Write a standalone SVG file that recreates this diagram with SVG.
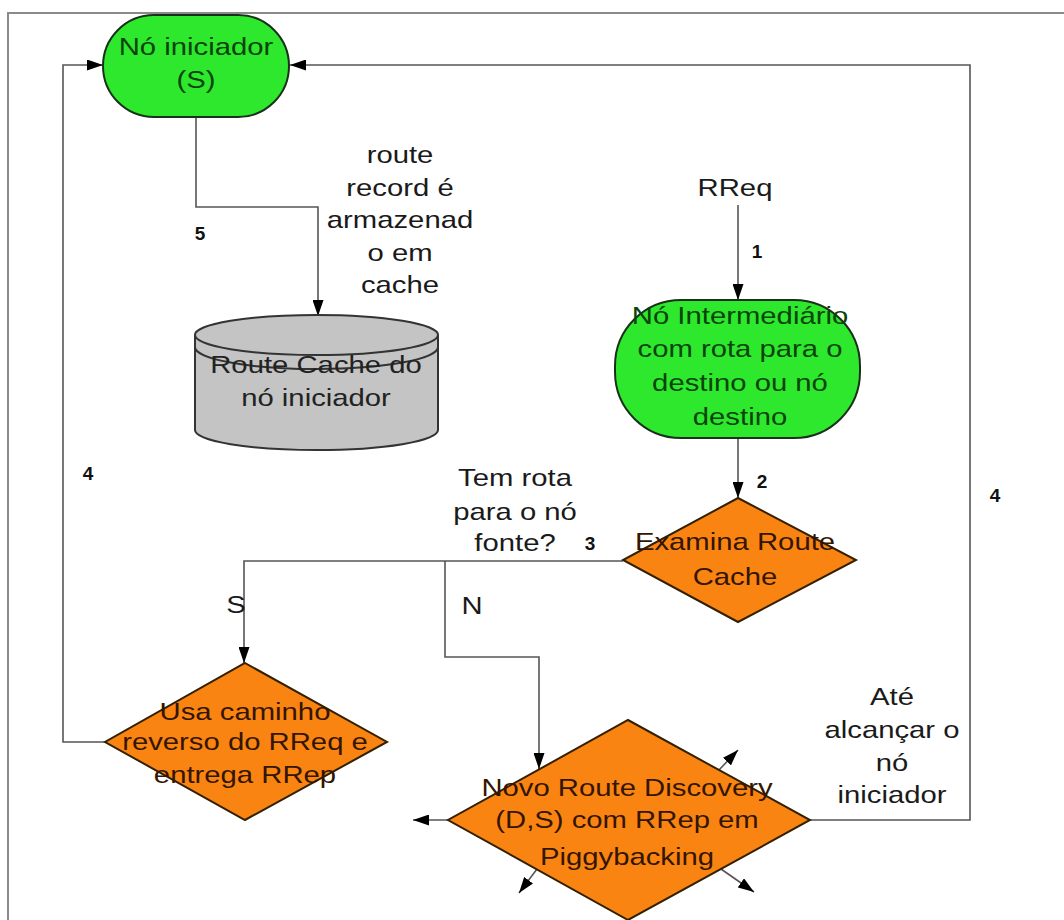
<svg xmlns="http://www.w3.org/2000/svg" width="1064" height="920" viewBox="0 0 1064 920">
<defs>
<marker id="ah" viewBox="0 0 16 11" refX="16" refY="5.5" markerWidth="16" markerHeight="11" markerUnits="userSpaceOnUse" orient="auto">
<path d="M0,0 L16,5.5 L0,11 z" fill="#000"/>
</marker>
<style>
.t{font-family:"Liberation Sans",Arial,sans-serif;font-size:24px;text-anchor:middle}
.b{font-family:"Liberation Sans",Arial,sans-serif;font-size:19px;font-weight:bold;text-anchor:middle;fill:#111}
.lbl{fill:#1a1a1a}
.gt{fill:#0b440b}
.ot{fill:#331500}
.ct{fill:#222}
.green{fill:#2ee82e;stroke:#1a301a;stroke-width:2}
.orange{fill:#fa8412;stroke:#332000;stroke-width:2}
.cyl{fill:#c4c4c4;stroke:#333;stroke-width:2}
.c{fill:none;stroke:#555;stroke-width:1.6}
.frame{fill:none;stroke:#8a8a8a;stroke-width:2}
</style>
</defs>
<rect width="1064" height="920" fill="#fff"/>
<path class="frame" d="M8,930 L8,13 L1070,13"/>

<g id="connectors">
<path class="c" d="M196,117 L196,207 L318,207 L318,316" marker-end="url(#ah)"/>
<path class="c" d="M738,205 L738,300" marker-end="url(#ah)"/>
<path class="c" d="M738,438 L738,498" marker-end="url(#ah)"/>
<path class="c" d="M623,561 L244,561 L244,663" marker-end="url(#ah)"/>
<path class="c" d="M445,561 L445,657 L539,657 L539,769" marker-end="url(#ah)"/>
<path class="c" d="M105,742 L63,742 L63,65 L103,65" marker-end="url(#ah)"/>
<path class="c" d="M810,820 L970,820 L970,65 L290,65" marker-end="url(#ah)"/>
<path class="c" d="M448,820 L413,820" marker-end="url(#ah)"/>
<path class="c" d="M719,770 L738,750" marker-end="url(#ah)"/>
<path class="c" d="M537,869 L519,893" marker-end="url(#ah)"/>
<path class="c" d="M721,869 L754,892" marker-end="url(#ah)"/>
</g>

<g id="node-iniciador">
<rect class="green" x="103" y="15" width="186" height="102" rx="51" ry="51"/>
<g transform="translate(196,0) scale(1.22,1)"><text class="t gt"><tspan x="0" y="55">Nó iniciador</tspan><tspan x="0" y="88">(S)</tspan></text></g>
</g>

<g id="node-cache">
<path class="cyl" d="M195,335 L195,430 A121.5,20 0 0 0 438,430 L438,335"/>
<ellipse class="cyl" cx="316.5" cy="335" rx="121.5" ry="20"/>
<path d="M195,347 A121.5,22 0 0 0 438,347" fill="none" stroke="#333" stroke-width="2"/>
<g transform="translate(316,0) scale(1.22,1)"><text class="t ct"><tspan x="0" y="373">Route Cache do</tspan><tspan x="0" y="406">nó iniciador</tspan></text></g>
</g>

<g id="node-intermediario">
<rect class="green" x="615" y="300" width="245" height="138" rx="66" ry="66"/>
<g transform="translate(740,0) scale(1.22,1)"><text class="t gt"><tspan x="0" y="324">Nó Intermediário</tspan><tspan x="0" y="357">com rota para o</tspan><tspan x="0" y="391">destino ou nó</tspan><tspan x="0" y="425">destino</tspan></text></g>
</g>

<g id="node-examina">
<polygon class="orange" points="738,498 856,560 738,622 623,560"/>
<g transform="translate(735,0) scale(1.22,1)"><text class="t ot"><tspan x="0" y="550">Examina Route</tspan><tspan x="0" y="585">Cache</tspan></text></g>
</g>

<g id="node-usa">
<polygon class="orange" points="245,663 387,742 245,820 105,742"/>
<g transform="translate(245,0) scale(1.22,1)"><text class="t ot"><tspan x="0" y="720">Usa caminho</tspan><tspan x="0" y="750">reverso do RReq e</tspan><tspan x="0" y="783">entrega RRep</tspan></text></g>
</g>

<g id="node-novo">
<polygon class="orange" points="628,720 810,820 628,920 448,820"/>
<g transform="translate(627,0) scale(1.22,1)"><text class="t ot"><tspan x="0" y="796">Novo Route Discovery</tspan><tspan x="0" y="828">(D,S) com RRep em</tspan><tspan x="0" y="865">Piggybacking</tspan></text></g>
</g>

<g id="labels">
<g transform="translate(400,0) scale(1.22,1)"><text class="t lbl"><tspan x="0" y="163">route</tspan><tspan x="0" y="196">record é</tspan><tspan x="0" y="228">armazenad</tspan><tspan x="0" y="261">o em</tspan><tspan x="0" y="293">cache</tspan></text></g>
<g transform="translate(735,0) scale(1.22,1)"><text class="t lbl" x="0" y="196">RReq</text></g>
<g transform="translate(515,0) scale(1.22,1)"><text class="t lbl"><tspan x="0" y="486">Tem rota</tspan><tspan x="0" y="520">para o nó</tspan><tspan x="0" y="551">fonte?</tspan></text></g>
<g transform="translate(236,0) scale(1.22,1)"><text class="t lbl" x="0" y="613">S</text></g>
<g transform="translate(472,0) scale(1.22,1)"><text class="t lbl" x="0" y="614">N</text></g>
<g transform="translate(892,0) scale(1.22,1)"><text class="t lbl"><tspan x="0" y="705">Até</tspan><tspan x="0" y="738">alcançar o</tspan><tspan x="0" y="771">nó</tspan><tspan x="0" y="803">iniciador</tspan></text></g>
<text class="b" x="200" y="240">5</text>
<text class="b" x="757" y="258">1</text>
<text class="b" x="762" y="488">2</text>
<text class="b" x="590" y="550">3</text>
<text class="b" x="88" y="480">4</text>
<text class="b" x="995" y="502">4</text>
</g>
</svg>
